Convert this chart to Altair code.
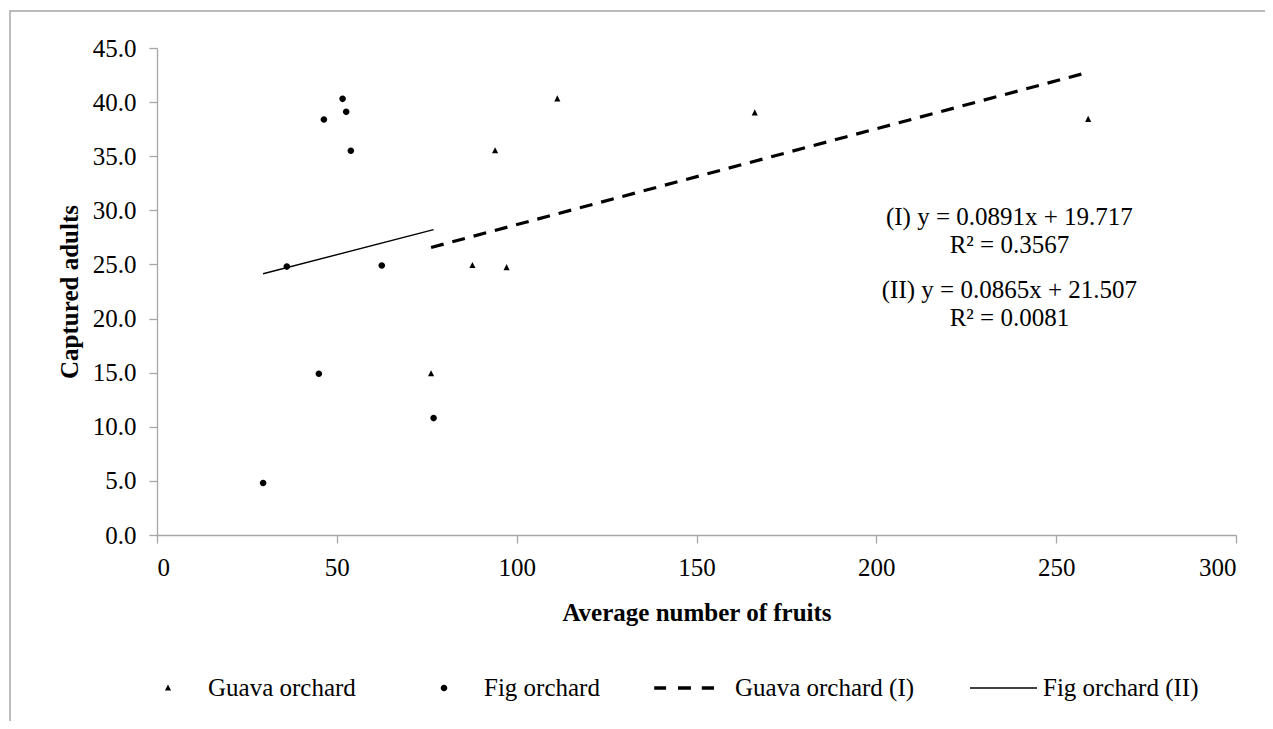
import altair as alt
import pandas as pd

# ---- data ----
guava_x = [76.2, 87.7, 94.0, 97.2, 111.3, 166.2, 258.9]
guava_y = [14.9, 24.9, 35.5, 24.7, 40.3, 39.0, 38.4]
fig_x = [29.5, 36.1, 45.0, 46.4, 51.6, 52.6, 53.9, 62.5, 76.9]
fig_y = [4.8, 24.8, 14.9, 38.4, 40.3, 39.1, 35.5, 24.9, 10.8]

legend_labels = ["Guava orchard", "Fig orchard", "Guava orchard (I)", "Fig orchard (II)"]

eq_text = ["(I) y = 0.0891x + 19.717", "R\u00b2 = 0.3567",
           "(II) y = 0.0865x + 21.507", "R\u00b2 = 0.0081"]
eq_x = [237.0, 237.0, 237.0, 237.0]
eq_y = [29.4, 26.8, 22.65, 20.05]

x_ticks = [0, 50, 100, 150, 200, 250, 300]
y_ticks = [0, 5, 10, 15, 20, 25, 30, 35, 40, 45]

FONT = "Liberation Serif"
GRAY = "#a6a6a6"
SYM = 4624  # symbol area -> unit = 34 px

tri = "M0,-0.105L0.09,0.075L-0.09,0.075Z"
r = 0.097
circ = f"M{-r},0A{r},{r},0,1,0,{r},0A{r},{r},0,1,0,{-r},0Z"
h = 0.05
dash = (f"M-1.2,{-h}H-0.85V{h}H-1.2Z"
        f"M-0.5,{-h}H-0.12V{h}H-0.5Z"
        f"M0.2,{-h}H0.56V{h}H0.2Z")
hs = 0.022
solid = f"M-0.97,{-hs}H1.0V{hs}H-0.97Z"

pts = pd.DataFrame({
    "x": guava_x + fig_x,
    "y": guava_y + fig_y,
    "series": [legend_labels[0]] * len(guava_x) + [legend_labels[1]] * len(fig_x),
})
eqs = pd.DataFrame({"x": eq_x, "y": eq_y, "t": eq_text})

xs = alt.Scale(domain=[0, 300], nice=False)
ys = alt.Scale(domain=[0, 45], nice=False)

x_axis = alt.Axis(values=x_ticks, format="d", title="Average number of fruits",
                  titleX=539.5, titleY=77, titleBaseline="middle",
                  grid=False, tickSize=8, labelPadding=12)
y_axis = alt.Axis(values=y_ticks, format=".1f", title="Captured adults",
                  titleX=-88, titleY=243.5, titleBaseline="middle",
                  grid=False, tickSize=8, labelPadding=13)

base = alt.Chart(pts)

points = base.mark_point(filled=True, opacity=1, size=SYM, color="black").encode(
    x=alt.X("x:Q", scale=xs, axis=x_axis),
    y=alt.Y("y:Q", scale=ys, axis=y_axis),
    shape=alt.Shape("series:N",
                    scale=alt.Scale(domain=legend_labels, range=[tri, circ, dash, solid]),
                    legend=alt.Legend(title=None, orient="none", legendX=-23, legendY=606,
                                      direction="horizontal", columns=4,
                                      symbolSize=SYM, symbolFillColor="black",
                                      symbolStrokeWidth=0, symbolOpacity=1,
                                      labelFont=FONT, labelFontSize=25, labelColor="black",
                                      labelOffset=6, columnPadding=54, labelLimit=0,
                                      padding=0)),
)

guava_line = base.transform_filter(
    alt.datum.series == legend_labels[0]
).transform_regression("x", "y").mark_line(
    color="black", strokeWidth=3.2, strokeDash=[13, 9]
).encode(x=alt.X("x:Q", scale=xs), y=alt.Y("y:Q", scale=ys))

fig_line = base.transform_filter(
    alt.datum.series == legend_labels[1]
).transform_regression("x", "y").mark_line(
    color="black", strokeWidth=1.4
).encode(x=alt.X("x:Q", scale=xs), y=alt.Y("y:Q", scale=ys))

eq_layer = alt.Chart(eqs).mark_text(font=FONT, fontSize=25, color="black",
                                     align="center", baseline="middle").encode(
    x=alt.X("x:Q", scale=xs), y=alt.Y("y:Q", scale=ys), text="t:N")

frame = alt.Chart(alt.Data(values=[{"a": 1}])).mark_rect(
    fillOpacity=0, stroke=GRAY, strokeWidth=1.5
).encode(x=alt.value(-147), x2=alt.value(1300), y=alt.value(-37), y2=alt.value(900))

chart = alt.layer(frame, guava_line, fig_line, points, eq_layer).properties(
    width=1079, height=487,
    autosize=alt.AutoSizeParams(type="none"),
    padding={"left": 149, "top": 40, "right": 29, "bottom": 186},
    background="white",
).configure_view(stroke="transparent").configure_axis(
    domainColor=GRAY, tickColor=GRAY, domainWidth=1.3, tickWidth=1.3,
    labelFont=FONT, labelFontSize=25, labelColor="black",
    titleFont=FONT, titleFontSize=25, titleFontWeight="bold", titleColor="black",
)

chart.save("out.html", embed_options={"renderer": "svg", "actions": False})
